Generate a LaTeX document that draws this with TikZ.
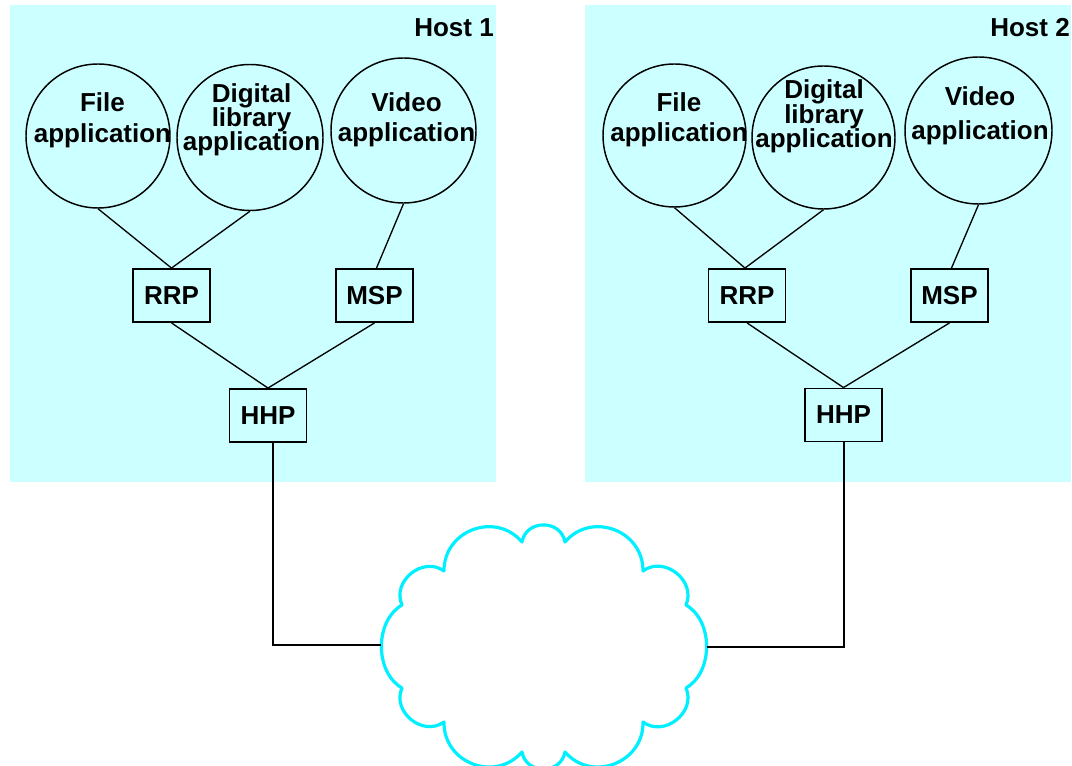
\documentclass[tikz,border=0pt]{standalone}
\usepackage{fontspec}
\setmainfont{Liberation Sans}
\newdimen\pxu \pxu=0.75pt
\definecolor{hostbg}{RGB}{204,255,255}
\definecolor{cloudcol}{RGB}{0,240,255}
\tikzset{
  appcircle/.style={circle, draw, line width=1.1pt, inner sep=0pt},
  protobox/.style={rectangle, draw, line width=1.4pt, inner sep=0pt,
     minimum width=77\pxu, minimum height=53\pxu,
     font=\fontsize{19.5}{22.5}\selectfont\bfseries},
  apptext/.style={align=center, anchor=base, inner sep=0pt,
     font=\fontsize{19.5}{23}\selectfont\bfseries},
  dltext/.style={apptext, font=\fontsize{19.5}{18.3}\selectfont\bfseries},
  hosttext/.style={anchor=base east, inner sep=0pt, font=\fontsize{19.5}{22}\selectfont\bfseries},
  link/.style={line width=1pt},
  netlink/.style={line width=1.5pt},
}
\lineskiplimit=-30pt
\begin{document}
\begin{tikzpicture}[x=0.75pt,y=0.75pt]
\lineskiplimit=-30pt
\useasboundingbox (0,0) rectangle (1072,-766);
\fill[white] (0,0) rectangle (1072,-766);
% host backgrounds
\fill[hostbg] (10,-5) rectangle (496,-482);
\fill[hostbg] (585,-5) rectangle (1071,-482);
\node[hosttext] (h1) at (494,-37) {Host 1};
\node[hosttext] (h2) at (1070,-37) {Host 2};
% Host 1
\node[appcircle, minimum size=144\pxu] (f1) at (98,-136) {};
\node[appcircle, minimum size=146\pxu] (d1) at (250,-137.5) {};
\node[appcircle, minimum size=145\pxu] (v1) at (403.5,-130.5) {};
\node[apptext] (tf1) at (102.5,-143) {File\\[0.8pt]application};
\node[dltext] (td1) at (251.5,-151) {Digital\\library\\application};
\node[apptext] (tv1) at (406.5,-142) {Video\\application};
\node[protobox] (rrp1) at (171.5,-295.5) {RRP};
\node[protobox] (msp1) at (374.5,-295.5) {MSP};
\node[protobox] (hhp1) at (268,-415.5) {HHP};
% Host 2
\node[appcircle, minimum size=143\pxu] (f2) at (674.5,-135.5) {};
\node[appcircle, minimum size=143\pxu] (d2) at (823.5,-137.5) {};
\node[appcircle, minimum size=147\pxu] (v2) at (978.5,-130.5) {};
\node[apptext] (tf2) at (679,-142) {File\\application};
\node[dltext] (td2) at (824,-148) {Digital\\[0.8pt]library\\application};
\node[apptext] (tv2) at (980,-140) {Video\\[2.5pt]application};
\node[protobox] (rrp2) at (747,-295.5) {RRP};
\node[protobox] (msp2) at (949.5,-295.5) {MSP};
\node[protobox] (hhp2) at (843.5,-415) {HHP};
% connectors host 1
\draw[link] (f1.south) -- (rrp1.north);
\draw[link] (d1.south) -- (rrp1.north);
\draw[link] (v1.south) -- ([xshift=2\pxu]msp1.north);
\draw[link] (rrp1.south) -- (hhp1.north);
\draw[link] (msp1.south) -- (hhp1.north);
% connectors host 2
\draw[link] (f2.south) -- ([xshift=-2\pxu]rrp2.north);
\draw[link] (d2.south) -- ([xshift=-2\pxu]rrp2.north);
\draw[link] (v2.south) -- ([xshift=2\pxu]msp2.north);
\draw[link] (rrp2.south) -- (hhp2.north);
\draw[link] (msp2.south) -- (hhp2.north);
% cloud
\coordinate (cw) at (381,-645.5);
\coordinate (ce) at (707,-647);
\draw[cloudcol, line width=2.4pt, line join=round]
  (402,-605) to[bend left=75, looseness=1.23] (444,-571)
  to[bend left=70, looseness=1.25] (522,-542)
  to[bend left=80, looseness=1.38] (565,-542)
  to[bend left=70, looseness=1.25] (643,-571)
  to[bend left=75, looseness=1.23] (686,-605)
  to[bend left=60, looseness=0.98] (686,-688)
  to[bend left=75, looseness=1.23] (643,-722)
  to[bend left=70, looseness=1.25] (565,-752)
  to[bend left=80, looseness=1.38] (522,-752)
  to[bend left=70, looseness=1.25] (444,-722)
  to[bend left=75, looseness=1.23] (402,-688)
  to[bend left=60, looseness=0.98] cycle;
% network links
\draw[netlink] ([xshift=4.5\pxu]hhp1.south) |- (cw);
\draw[netlink] (hhp2.south) |- (ce);
\end{tikzpicture}
\end{document}
